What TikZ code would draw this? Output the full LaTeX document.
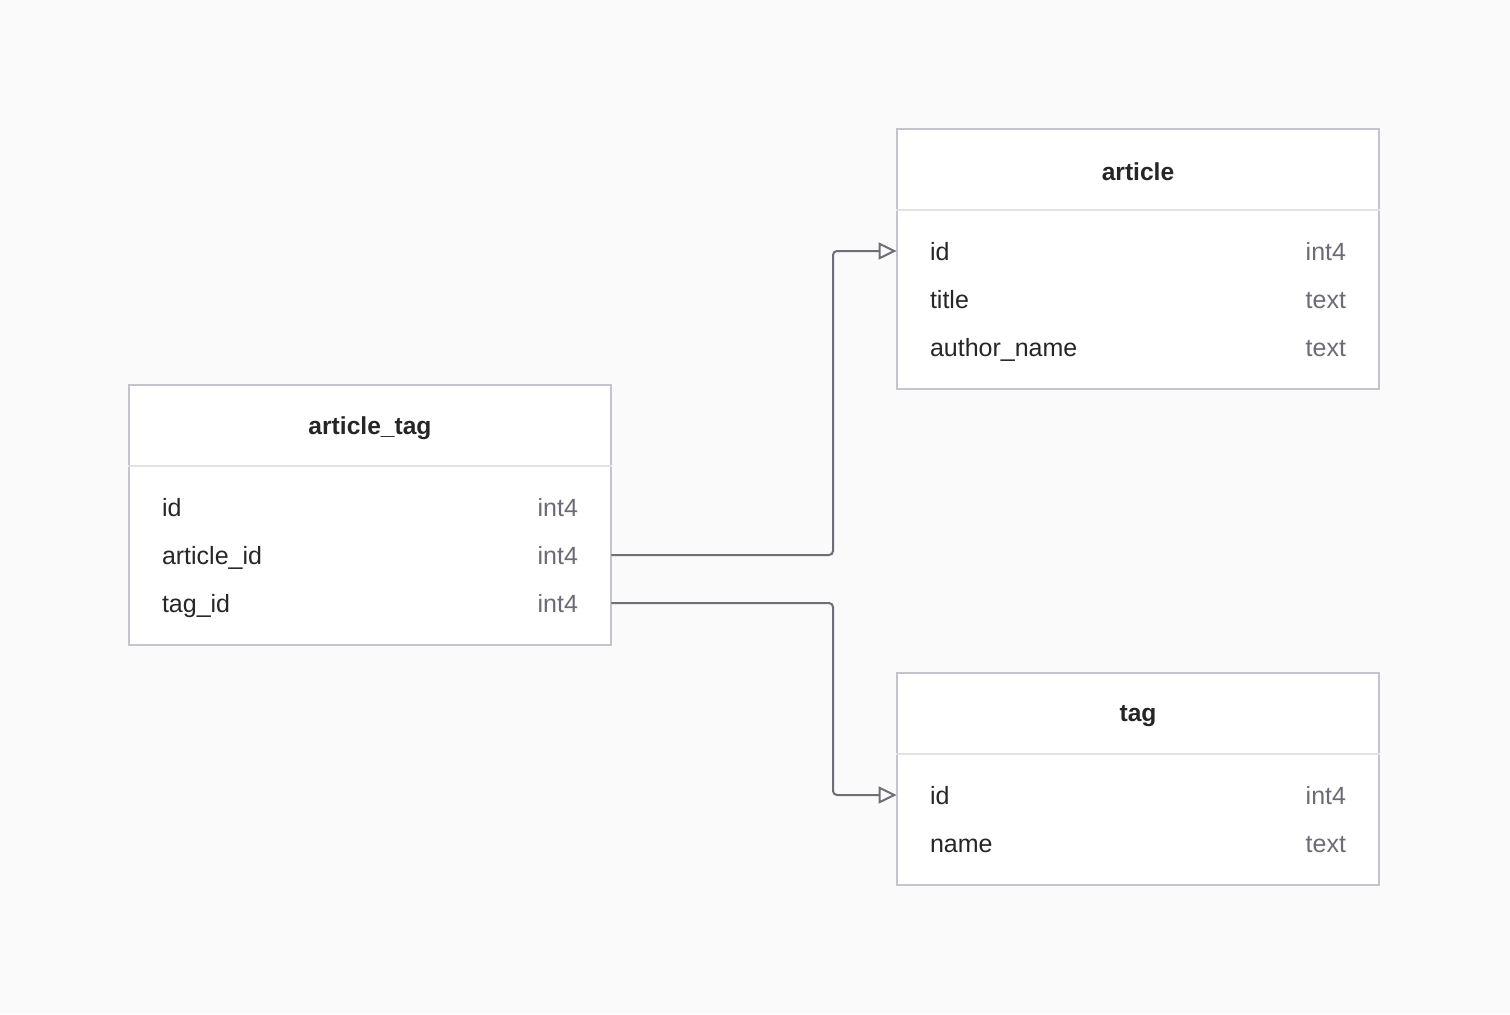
\documentclass[tikz,border=0pt]{standalone}
\usepackage{fontspec}
\setmainfont{Liberation Sans}
\usepackage{xcolor}
\usetikzlibrary{arrows.meta,positioning}

\definecolor{bgcol}{HTML}{FAFAFA}
\definecolor{bordercol}{HTML}{C4C4CC}
\definecolor{sepcol}{HTML}{E2E2E6}
\definecolor{linkcol}{HTML}{6E6E76}
\definecolor{namecol}{HTML}{262626}
\definecolor{typecol}{HTML}{6B6B73}

\begin{document}
\begin{tikzpicture}[
    x=0.5pt, y=-0.5pt,
    tablebox/.style={rectangle, draw=bordercol, fill=white, line width=1pt, minimum width=241pt, inner sep=0pt},
    tabletitle/.style={font=\fontsize{12.3}{15}\selectfont\bfseries, text=namecol, inner sep=0pt},
    field/.style={rectangle, inner xsep=16.5pt, inner ysep=0pt, text width=208pt, text height=10.5pt, text depth=1.5pt, font=\fontsize{12.5}{15}\selectfont, text=namecol},
    sepline/.style={draw=sepcol, line width=0.8pt},
    fk/.style={draw=linkcol, line width=1pt, rounded corners=2pt, -{Triangle[open, length=9pt, width=8.5pt, line width=1pt]}}
]

% background and margins
\fill[bgcol] (0,0) rectangle (1510,1014);

% Tables
\node[tablebox, minimum height=130pt] (article) at (1138,259) {};
\node[tablebox, minimum height=130pt] (articleTag) at (370,515) {};
\node[tablebox, minimum height=106pt] (tag) at (1138,779) {};

% Header separators
\draw[sepline] ([yshift=-41pt]article.north west) -- ([yshift=-41pt]article.north east);
\draw[sepline] ([yshift=-41pt]articleTag.north west) -- ([yshift=-41pt]articleTag.north east);
\draw[sepline] ([yshift=-41pt]tag.north west) -- ([yshift=-41pt]tag.north east);

% Titles
\node[tabletitle] (articleTitle) at (1138,172) {article};
\node[tabletitle] (articleTagTitle) at (370,428) {article\_tag};
\node[tabletitle] (tagTitle) at (1138,716) {tag};

% Fields of article
\node[field] (articleId) at (1138,251) {id\hfill\textcolor{typecol}{int4}};
\node[field] (articleTitleCol) at (1138,299) {title\hfill\textcolor{typecol}{text}};
\node[field] (articleAuthor) at (1138,347) {author\_name\hfill\textcolor{typecol}{text}};

% Fields of article_tag
\node[field] (atId) at (370,507) {id\hfill\textcolor{typecol}{int4}};
\node[field] (atArticleId) at (370,555) {article\_id\hfill\textcolor{typecol}{int4}};
\node[field] (atTagId) at (370,603) {tag\_id\hfill\textcolor{typecol}{int4}};

% Fields of tag
\node[field] (tagId) at (1138,795) {id\hfill\textcolor{typecol}{int4}};
\node[field] (tagName) at (1138,843) {name\hfill\textcolor{typecol}{text}};

% Foreign keys
\coordinate (bendx) at (833,0);
\draw[fk] (atArticleId.east) -- (atArticleId.east -| bendx) |- (articleId.west);
\draw[fk] (atTagId.east) -- (atTagId.east -| bendx) |- (tagId.west);

\end{tikzpicture}
\end{document}
